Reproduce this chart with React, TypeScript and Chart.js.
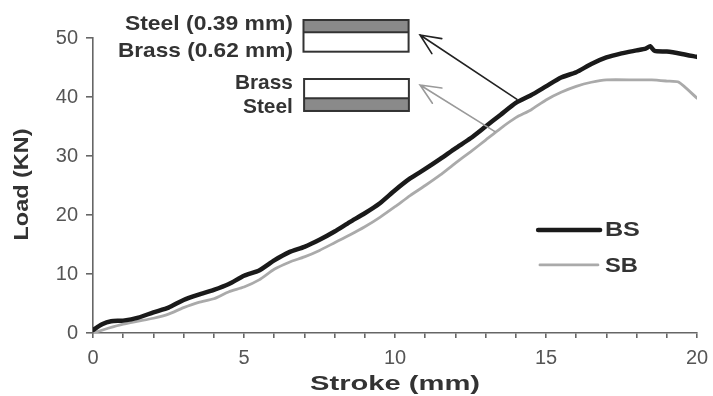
import React, { useEffect, useRef } from "react";
import { Chart, registerables } from "chart.js";

Chart.register(...registerables);

// Stroke (mm) / Load (KN)
const bsStroke = [0, 0.3, 0.6, 1, 1.5, 2, 2.5, 3, 3.5, 4, 4.5, 5, 5.5, 6, 6.5, 7, 7.5, 8, 8.5, 9, 9.5, 10, 10.5, 11, 11.5, 12, 12.5, 13, 13.5, 14, 14.5, 15, 15.5, 16, 16.5, 17, 17.5, 18, 18.3, 18.45, 18.6, 19, 19.5, 20];
const bsLoad = [0.5, 1.5, 2.0, 2.1, 2.6, 3.5, 4.3, 5.6, 6.5, 7.3, 8.3, 9.7, 10.6, 12.3, 13.7, 14.6, 15.8, 17.2, 18.8, 20.3, 22.0, 24.2, 26.2, 27.8, 29.5, 31.3, 33.0, 35.0, 37.0, 39.0, 40.3, 41.8, 43.3, 44.2, 45.6, 46.7, 47.4, 47.9, 48.2, 48.6, 47.8, 47.7, 47.3, 46.8];

const sbStroke = [0, 0.5, 1, 1.5, 2, 2.5, 3, 3.5, 4, 4.5, 5, 5.5, 6, 6.5, 7, 7.5, 8, 8.5, 9, 9.5, 10, 10.5, 11, 11.5, 12, 12.5, 13, 13.5, 14, 14.5, 15, 15.5, 16, 16.5, 17, 18, 18.5, 19, 19.4, 20];
const sbLoad = [0, 0.8, 1.5, 2.0, 2.5, 3.2, 4.3, 5.2, 5.8, 7.0, 7.8, 9.0, 10.8, 12.0, 12.9, 14.0, 15.3, 16.6, 18.0, 19.6, 21.4, 23.3, 25.0, 26.8, 28.8, 30.7, 32.7, 34.7, 36.5, 37.8, 39.5, 40.8, 41.8, 42.5, 42.9, 42.9, 42.9, 42.7, 42.5, 39.8];

const seriesNames = ["BS", "SB"];
const xMajorLabels = [0, 5, 10, 15, 20];
const yTickValues = [0, 10, 20, 30, 40, 50];
const xTitle = "Stroke (mm)";
const yTitle = "Load (KN)";
const insetTop = ["Steel (0.39 mm)", "Brass (0.62 mm)"];
const insetBottom = ["Brass", "Steel"];

const FONT = '"Liberation Sans", Arial, sans-serif';
const TEXT = "#333";

function fitText(ctx: CanvasRenderingContext2D, text: string, x: number, y: number, size: number, width: number, align: CanvasTextAlign, rotate = 0) {
  ctx.save();
  ctx.font = `bold ${size}px ${FONT}`;
  const w = ctx.measureText(text).width;
  const s = width / w;
  ctx.translate(x, y);
  if (rotate) ctx.rotate(rotate);
  ctx.scale(s, 1);
  ctx.textAlign = align;
  ctx.textBaseline = "alphabetic";
  ctx.fillStyle = TEXT;
  ctx.fillText(text, 0, 0);
  ctx.restore();
}

function arrow(ctx: CanvasRenderingContext2D, x0: number, y0: number, x1: number, y1: number, color: string) {
  ctx.save();
  ctx.strokeStyle = color;
  ctx.lineWidth = 1.6;
  ctx.lineCap = "round";
  ctx.beginPath();
  ctx.moveTo(x0, y0);
  ctx.lineTo(x1, y1);
  const a = Math.atan2(y0 - y1, x0 - x1);
  const L = 22;
  const d = (24 * Math.PI) / 180;
  ctx.moveTo(x1 + L * Math.cos(a - d), y1 + L * Math.sin(a - d));
  ctx.lineTo(x1, y1);
  ctx.lineTo(x1 + L * Math.cos(a + d), y1 + L * Math.sin(a + d));
  ctx.stroke();
  ctx.restore();
}

const decorPlugin = {
  id: "decor",
  afterDraw(chart: any) {
    const ctx: CanvasRenderingContext2D = chart.ctx;
    const xs = chart.scales.x;
    const ys = chart.scales.y;
    const X = (v: number) => xs.getPixelForValue(v);
    const Y = (v: number) => ys.getPixelForValue(v);
    const area = chart.chartArea;

    // Axis titles
    fitText(ctx, xTitle, (area.left + area.right) / 2, 390, 21, 170, "center");
    fitText(ctx, yTitle, 28, (area.top + area.bottom) / 2 - 1, 21, 112, "center", -Math.PI / 2);

    // Inset layered strips
    const drawStrip = (x0: number, x1: number, yTop: number, yDiv: number, yBot: number, grayTop: boolean) => {
      const l = X(x0), r = X(x1), t = Y(yTop), m = Y(yDiv), b = Y(yBot);
      ctx.save();
      ctx.fillStyle = "#ffffff";
      ctx.fillRect(l, t, r - l, b - t);
      ctx.fillStyle = "#8a8a8a";
      if (grayTop) ctx.fillRect(l, t, r - l, m - t);
      else ctx.fillRect(l, m, r - l, b - m);
      ctx.strokeStyle = "#333";
      ctx.lineWidth = 2;
      ctx.strokeRect(l, t, r - l, b - t);
      ctx.beginPath();
      ctx.moveTo(l, m);
      ctx.lineTo(r, m);
      ctx.stroke();
      ctx.restore();
    };
    drawStrip(6.97, 10.45, 53.05, 50.97, 47.68, true);
    drawStrip(6.99, 10.46, 43.05, 39.78, 37.63, false);

    fitText(ctx, insetTop[0], X(6.62), Y(51.36), 21, 168, "right");
    fitText(ctx, insetTop[1], X(6.62), Y(46.86), 21, 175, "right");
    fitText(ctx, insetBottom[0], X(6.62), Y(41.36), 21, 58, "right");
    fitText(ctx, insetBottom[1], X(6.62), Y(37.29), 21, 50, "right");

    // Arrows pointing from curves to the strips
    arrow(ctx, X(14.04), Y(39.61), X(10.83), Y(50.51), "#222");
    arrow(ctx, X(13.31), Y(34.12), X(10.83), Y(42.03), "#9a9a9a");

    // Legend
    ctx.save();
    ctx.lineCap = "round";
    ctx.strokeStyle = "#1a1a1a";
    ctx.lineWidth = 4.5;
    ctx.beginPath();
    ctx.moveTo(X(14.74), Y(17.46));
    ctx.lineTo(X(16.79), Y(17.46));
    ctx.stroke();
    ctx.strokeStyle = "#aaaaaa";
    ctx.lineWidth = 2.8;
    ctx.beginPath();
    ctx.moveTo(X(14.8), Y(11.53));
    ctx.lineTo(X(16.72), Y(11.53));
    ctx.stroke();
    ctx.restore();
    fitText(ctx, seriesNames[0], X(16.95), Y(16.36), 21, 35, "left");
    fitText(ctx, seriesNames[1], X(16.95), Y(10.42), 21, 33, "left");
  },
};

export default function App() {
  const ref = useRef<HTMLCanvasElement | null>(null);
  useEffect(() => {
    document.body.style.margin = "0";
    if (!ref.current) return;
    const chart = new Chart(ref.current, {
      type: "line",
      data: {
        datasets: [
          {
            label: seriesNames[0],
            data: bsStroke.map((x, i) => ({ x, y: bsLoad[i] })),
            borderColor: "#1a1a1a",
            borderWidth: 4.5,
            pointRadius: 0,
            tension: 0.2,
            borderJoinStyle: "round",
            borderCapStyle: "round",
          },
          {
            label: seriesNames[1],
            data: sbStroke.map((x, i) => ({ x, y: sbLoad[i] })),
            borderColor: "#aaaaaa",
            borderWidth: 2.8,
            pointRadius: 0,
            tension: 0.2,
            borderJoinStyle: "round",
            borderCapStyle: "round",
          },
        ],
      },
      options: {
        responsive: true,
        maintainAspectRatio: false,
        animation: false,
        events: [],
        layout: { padding: { top: 38, right: 16, left: 0, bottom: 0 } },
        plugins: { legend: { display: false }, tooltip: { enabled: false } },
        scales: {
          x: {
            type: "linear",
            min: 0,
            max: 20,
            afterFit: (s: any) => { s.height = 63; },
            border: { color: "#666", width: 1.6 },
            grid: { drawOnChartArea: false, drawTicks: true, tickLength: 5, color: "#666", lineWidth: 1.6 },
            ticks: {
              stepSize: 1,
              autoSkip: false,
              maxRotation: 0,
              padding: 4,
              color: "#555",
              font: { family: FONT, size: 20, lineHeight: 1.6 },
              callback: (v: any) => (xMajorLabels.includes(Number(v)) ? String(v) : ""),
            },
          },
          y: {
            min: 0,
            max: 50,
            afterFit: (s: any) => { s.width = 93; },
            afterBuildTicks: (s: any) => { s.ticks = yTickValues.map((v) => ({ value: v })); },
            border: { color: "#666", width: 1.6 },
            grid: { drawOnChartArea: false, drawTicks: true, tickLength: 7, color: "#666", lineWidth: 1.6 },
            ticks: {
              padding: 8,
              color: "#555",
              font: { family: FONT, size: 20 },
            },
          },
        },
      },
      plugins: [decorPlugin],
    });
    return () => chart.destroy();
  }, []);
  return (
    <div style={{ position: "absolute", left: 0, top: 0, width: 713, height: 396, background: "#fff" }}>
      <canvas ref={ref} />
    </div>
  );
}
